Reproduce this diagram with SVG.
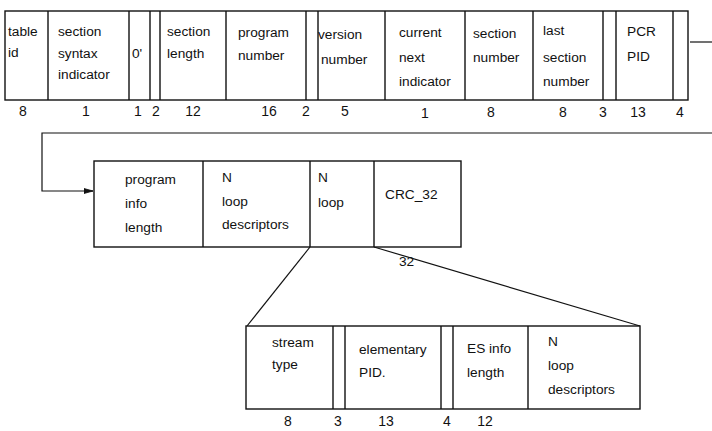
<svg xmlns="http://www.w3.org/2000/svg" width="712" height="431" viewBox="0 0 712 431">
<defs>
<style>
text{font-family:"Liberation Sans",Arial,sans-serif;font-size:13.7px;fill:#111}
.b{fill:#fff;stroke:#111;stroke-width:1.4}
.d{stroke:#111;stroke-width:1.4;fill:none}
.c{stroke:#111;stroke-width:1.2;fill:none}
.n{font-size:14px;text-anchor:middle}
</style>
<marker id="ah" markerWidth="10" markerHeight="8" refX="9" refY="4" orient="auto" markerUnits="userSpaceOnUse">
<path d="M0,1.5 L9,4 L0,6.5 Z" fill="#111" stroke="#111" stroke-width="0.8"/>
</marker>
</defs>
<rect width="712" height="431" fill="#fff"/>
<g id="connectors">
<path class="c" d="M690,42 H712"/>
<path class="c" d="M712,133 H42 V191 H93" marker-end="url(#ah)"/>
<path class="c" d="M310,247 L247,326"/>
<path class="c" d="M374,247 L640,326"/>
<text x="399" y="266">32</text>
</g>
<g id="pmt-header">
<rect class="b" x="5" y="11" width="683" height="89"/>
<path class="d" d="M48,11V100 M129,11V100 M150,11V100 M160,11V100 M226,11V100 M306,11V100 M318,11V100 M385,11V100 M465,11V100 M533,11V100 M603,11V100 M616,11V100 M673,11V100"/>
</g>
<g id="f-table-id"><text x="8" y="36">table</text><text x="8" y="57">id</text></g>
<g id="f-ssi"><text x="58" y="36">section</text><text x="58" y="58">syntax</text><text x="58" y="79">indicator</text></g>
<g id="f-zero"><text x="132" y="58">0'</text></g>
<g id="f-section-length"><text x="167" y="36">section</text><text x="167" y="58">length</text></g>
<g id="f-program-number"><text x="238" y="37">program</text><text x="238" y="60">number</text></g>
<g id="f-version"><text x="318" y="39">version</text><text x="321" y="64">number</text></g>
<g id="f-cni"><text x="399" y="37">current</text><text x="399" y="62">next</text><text x="399" y="86">indicator</text></g>
<g id="f-section-number"><text x="473" y="38">section</text><text x="473" y="62">number</text></g>
<g id="f-last-section"><text x="543" y="35">last</text><text x="543" y="62">section</text><text x="543" y="86">number</text></g>
<g id="f-pcr-pid"><text x="627" y="36">PCR</text><text x="627" y="61">PID</text></g>
<g id="bits-top">
<text class="n" x="23" y="116">8</text>
<text class="n" x="86" y="116">1</text>
<text class="n" x="138" y="116">1</text>
<text class="n" x="156" y="116">2</text>
<text class="n" x="193" y="116">12</text>
<text class="n" x="269" y="116">16</text>
<text class="n" x="306" y="116">2</text>
<text class="n" x="345" y="116">5</text>
<text class="n" x="425" y="118">1</text>
<text class="n" x="491" y="117">8</text>
<text class="n" x="563" y="117">8</text>
<text class="n" x="603" y="117">3</text>
<text class="n" x="638" y="117">13</text>
<text class="n" x="680" y="117">4</text>
</g>
<g id="program-loop">
<rect class="b" x="94" y="161" width="367" height="86"/>
<path class="d" d="M203,161V247 M310,161V247 M374,161V247"/>
</g>
<g id="f-program-info-length"><text x="125" y="184">program</text><text x="125" y="208">info</text><text x="125" y="232">length</text></g>
<g id="f-n-loop-desc"><text x="222" y="182">N</text><text x="222" y="206">loop</text><text x="222" y="229">descriptors</text></g>
<g id="f-n-loop"><text x="318" y="182">N</text><text x="318" y="207">loop</text></g>
<g id="f-crc"><text x="385" y="199">CRC_32</text></g>
<g id="es-loop">
<rect class="b" x="246" y="326" width="394" height="83"/>
<path class="d" d="M333,326V409 M345,326V409 M441,326V409 M453,326V409 M528,326V409"/>
</g>
<g id="f-stream-type"><text x="272" y="347">stream</text><text x="272" y="369">type</text></g>
<g id="f-elementary-pid"><text x="359" y="354">elementary</text><text x="359" y="377">PID.</text></g>
<g id="f-es-info-length"><text x="467" y="353">ES info</text><text x="467" y="377">length</text></g>
<g id="f-es-desc"><text x="548" y="346">N</text><text x="548" y="370">loop</text><text x="548" y="394">descriptors</text></g>
<g id="bits-es">
<text class="n" x="288" y="426">8</text>
<text class="n" x="338" y="426">3</text>
<text class="n" x="386" y="426">13</text>
<text class="n" x="447" y="426">4</text>
<text class="n" x="485" y="426">12</text>
</g>
</svg>
